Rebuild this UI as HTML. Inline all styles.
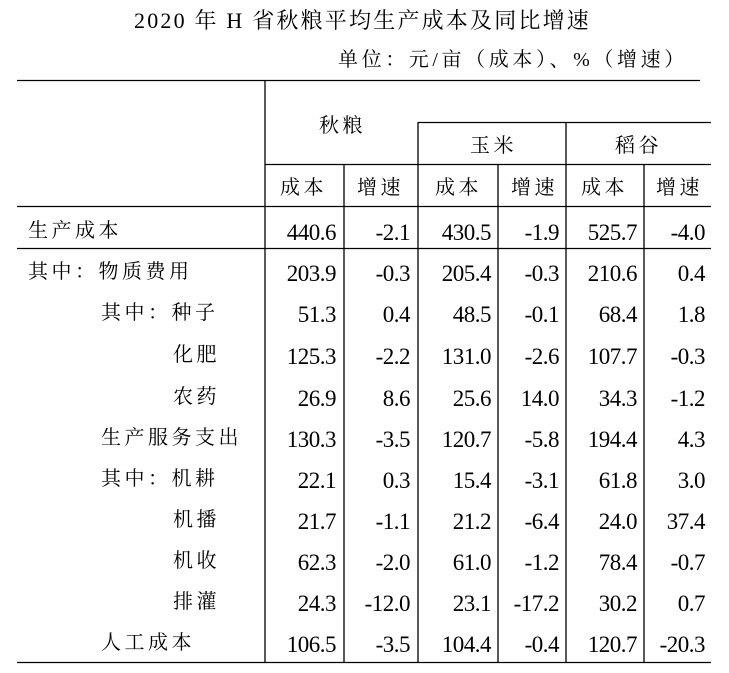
<!DOCTYPE html>
<html><head><meta charset="utf-8"><style>
body{margin:0;width:729px;height:673px;background:#fff;position:relative;overflow:hidden;font-family:"Liberation Serif","Noto Serif CJK SC",serif;color:#000}
.t{position:absolute;white-space:nowrap;line-height:1}
.c{font-size:20px;letter-spacing:3.5px}
.n{font-size:23px;text-align:right;width:80px;letter-spacing:-0.5px}
</style></head><body>
<svg width="729" height="673" style="position:absolute;left:0;top:0">
<g stroke="#000" stroke-width="1.3">
<line x1="17" y1="80.5" x2="700" y2="80.5"/>
<line x1="418" y1="122.5" x2="711" y2="122.5"/>
<line x1="265" y1="164.5" x2="711" y2="164.5"/>
<line x1="17" y1="206.5" x2="711" y2="206.5"/>
<line x1="17" y1="248.5" x2="711" y2="248.5"/>
<line x1="17" y1="662.5" x2="711" y2="662.5"/>
<line x1="265" y1="80" x2="265" y2="662"/>
<line x1="344" y1="164" x2="344" y2="662"/>
<line x1="418" y1="122" x2="418" y2="662"/>
<line x1="498" y1="164" x2="498" y2="662"/>
<line x1="566" y1="122" x2="566" y2="662"/>
<line x1="644" y1="164" x2="644" y2="662"/>
</g></svg>
<div class="t" style="left:134px;top:10px;font-size:22px;letter-spacing:2.2px">2020 年 H 省秋粮平均生产成本及同比增速</div>
<div class="t" style="left:338px;top:50px;font-size:20px;letter-spacing:3.6px">单位：元/亩（成本）、%（增速）</div>
<div class="t c" style="left:319px;top:116px">秋粮</div>
<div class="t c" style="left:470px;top:136px">玉米</div>
<div class="t c" style="left:615px;top:136px">稻谷</div>
<div class="t c" style="left:280px;top:178px">成本</div>
<div class="t c" style="left:357px;top:178px">增速</div>
<div class="t c" style="left:435px;top:178px">成本</div>
<div class="t c" style="left:511px;top:178px">增速</div>
<div class="t c" style="left:581px;top:178px">成本</div>
<div class="t c" style="left:656px;top:178px">增速</div>
<div id="rows"></div>
<script>
var rows=[
[28,"生产成本","440.6","-2.1","430.5","-1.9","525.7","-4.0"],
[28,"其中：物质费用","203.9","-0.3","205.4","-0.3","210.6","0.4"],
[101,"其中：种子","51.3","0.4","48.5","-0.1","68.4","1.8"],
[173,"化肥","125.3","-2.2","131.0","-2.6","107.7","-0.3"],
[173,"农药","26.9","8.6","25.6","14.0","34.3","-1.2"],
[101,"生产服务支出","130.3","-3.5","120.7","-5.8","194.4","4.3"],
[101,"其中：机耕","22.1","0.3","15.4","-3.1","61.8","3.0"],
[173,"机播","21.7","-1.1","21.2","-6.4","24.0","37.4"],
[173,"机收","62.3","-2.0","61.0","-1.2","78.4","-0.7"],
[173,"排灌","24.3","-12.0","23.1","-17.2","30.2","0.7"],
[101,"人工成本","106.5","-3.5","104.4","-0.4","120.7","-20.3"]];
var ys=[232,273,314,356,398,439,480,521,562,603,644];
var rights=[336,410,491,559,637,705];
var h="";
rows.forEach(function(r,i){var y=ys[i];
h+='<div class="t c" style="left:'+r[0]+'px;top:'+(y-11)+'px">'+r[1]+'</div>';
for(var j=0;j<6;j++)h+='<div class="t n" style="left:'+(rights[j]-80)+'px;top:'+(y-11)+'px">'+r[j+2]+'</div>';});
document.getElementById("rows").innerHTML=h;
</script>
</body></html>
